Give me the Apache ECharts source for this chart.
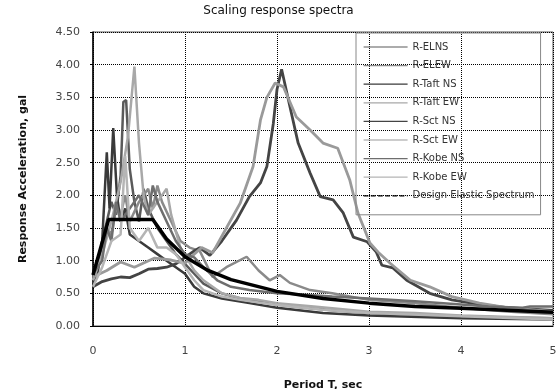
<!DOCTYPE html>
<html><head><meta charset="utf-8">
<script src="https://cdn.jsdelivr.net/npm/echarts@6/dist/echarts.min.js"></script>
<style>html,body{margin:0;padding:0;background:#fff}#c{width:557px;height:389px}</style>
</head><body><div id="c"></div>
<script>
const seriesNames = ['R-ELNS','R-ELEW','R-Taft NS','R-Taft EW','R-Sct NS','R-Sct EW','R-Kobe NS','R-Kobe EW','Design Elastic Spectrum'];
const xTicks = [0,1,2,3,4,5];
const yTicks = [0,0.5,1,1.5,2,2.5,3,3.5,4,4.5];

const elns = [[0,0.75],[0.05,0.9],[0.1,1.3],[0.15,1.6],[0.2,1.9],[0.25,1.7],[0.3,2.3],[0.33,3.43],[0.36,3.46],[0.4,2.4],[0.45,1.9],[0.5,1.6],[0.55,2.1],[0.6,1.8],[0.7,1.5],[0.8,1.3],[0.9,1.1],[1.0,0.95],[1.1,0.8],[1.2,0.65],[1.4,0.5],[1.6,0.42],[1.8,0.38],[2.0,0.33],[2.3,0.28],[2.6,0.24],[3.0,0.2],[3.5,0.17],[4,0.15],[4.5,0.13],[5,0.12]];
const elew = [[0,0.7],[0.05,0.95],[0.1,1.2],[0.15,1.5],[0.2,1.4],[0.25,1.8],[0.3,1.7],[0.35,2.0],[0.4,1.6],[0.5,1.9],[0.6,2.1],[0.65,1.8],[0.7,2.15],[0.75,1.9],[0.85,1.6],[0.95,1.3],[1.05,1.2],[1.16,1.15],[1.3,0.75],[1.45,0.9],[1.67,1.06],[1.8,0.85],[1.92,0.7],[2.03,0.78],[2.14,0.66],[2.36,0.55],[2.6,0.5],[3.0,0.4],[3.5,0.35],[4,0.28],[4.5,0.22],[5,0.18]];
const taftNS = [[0,0.65],[0.05,0.8],[0.1,1.3],[0.15,2.66],[0.18,1.8],[0.22,3.03],[0.26,2.0],[0.3,1.6],[0.35,1.8],[0.4,1.4],[0.5,1.3],[0.6,1.2],[0.7,1.1],[0.8,1.0],[0.9,0.9],[1.0,0.8],[1.1,0.6],[1.2,0.5],[1.4,0.42],[1.7,0.35],[2.0,0.28],[2.5,0.2],[3,0.16],[4,0.12],[5,0.1]];
const taftEW = [[0,0.7],[0.1,1.1],[0.2,1.6],[0.3,2.2],[0.38,2.9],[0.45,3.97],[0.5,2.8],[0.55,2.0],[0.6,1.7],[0.7,1.9],[0.8,2.1],[0.85,1.7],[0.95,1.2],[1.1,0.85],[1.2,0.7],[1.4,0.5],[1.6,0.43],[1.8,0.4],[2.0,0.35],[2.4,0.3],[3,0.22],[3.5,0.2],[4,0.16],[5,0.12]];
const sctNS = [[0,0.6],[0.1,0.68],[0.2,0.72],[0.3,0.75],[0.4,0.74],[0.5,0.8],[0.6,0.87],[0.7,0.88],[0.8,0.9],[0.9,0.95],[1.0,1.05],[1.1,1.15],[1.16,1.2],[1.27,1.08],[1.4,1.3],[1.56,1.62],[1.7,1.98],[1.82,2.19],[1.89,2.44],[1.96,3.1],[2.0,3.62],[2.05,3.93],[2.14,3.36],[2.23,2.8],[2.36,2.34],[2.47,1.98],[2.61,1.93],[2.72,1.73],[2.83,1.36],[2.98,1.29],[3.08,1.13],[3.14,0.93],[3.26,0.89],[3.41,0.7],[3.66,0.5],[3.9,0.4],[4.2,0.33],[4.5,0.28],[5,0.24]];
const sctEW = [[0,0.75],[0.15,0.85],[0.3,0.98],[0.45,0.9],[0.67,1.04],[0.85,1.01],[1.0,0.96],[1.1,1.1],[1.18,1.2],[1.3,1.12],[1.45,1.5],[1.6,1.88],[1.74,2.44],[1.82,3.15],[1.89,3.5],[1.98,3.72],[2.07,3.66],[2.21,3.2],[2.36,3.0],[2.5,2.8],[2.66,2.72],[2.79,2.24],[2.88,1.73],[3.01,1.27],[3.1,1.13],[3.23,0.96],[3.45,0.7],[3.66,0.6],[3.9,0.45],[4.2,0.35],[4.5,0.28],[5,0.22]];
const kobeNS = [[0,0.8],[0.1,1.0],[0.15,1.5],[0.2,1.3],[0.25,1.9],[0.3,1.6],[0.4,1.8],[0.5,2.0],[0.6,1.7],[0.65,2.15],[0.7,1.9],[0.8,1.6],[0.9,1.3],[1.0,1.1],[1.1,1.05],[1.2,0.9],[1.35,0.7],[1.5,0.6],[1.7,0.55],[2.0,0.5],[2.3,0.48],[2.6,0.45],[3,0.42],[3.5,0.38],[4,0.33],[4.3,0.3],[4.67,0.28],[4.75,0.3],[5,0.3]];
const kobeEW = [[0,0.6],[0.1,0.9],[0.2,1.3],[0.3,1.4],[0.35,2.6],[0.4,1.5],[0.5,1.3],[0.6,1.5],[0.7,1.2],[0.8,1.2],[0.9,1.1],[1.0,0.9],[1.1,0.7],[1.2,0.55],[1.4,0.45],[1.6,0.4],[2,0.32],[2.5,0.25],[3,0.2],[4,0.15],[5,0.1]];
const design = [[0,0.78],[0.17,1.63],[0.65,1.63],[0.8,1.33],[1,1.06],[1.25,0.85],[1.5,0.71],[2,0.53],[2.5,0.42],[3,0.35],[3.5,0.3],[4,0.27],[4.5,0.24],[5,0.21]];

const dataSets = [elns, elew, taftNS, taftEW, sctNS, sctEW, kobeNS, kobeEW, design];
const colors = ['#5a5a5a','#8a8a8a','#3a3a3a','#a8a8a8','#444444','#9a9a9a','#6e6e6e','#b5b5b5','#000000'];
const widths = [2.5,2.5,2.5,2.5,2.8,2.8,2.5,2.5,3.5];

const chart = echarts.init(document.getElementById('c'));
const series = dataSets.map((d,i)=>({
  name: seriesNames[i], type:'line', data:d, symbol:'none', smooth:false,
  lineStyle:{color:colors[i], width:widths[i]}, itemStyle:{color:colors[i]},
  z: i===8 ? 5 : 2
}));
chart.setOption({
  animation:false,
  title:{text:'Scaling response spectra', left:'center', top:0,
    textStyle:{fontFamily:'DejaVu Sans', fontSize:12, fontWeight:'normal', color:'#111'}},
  grid:{left:93, right:4, top:32, bottom:63, show:true, borderColor:'#555', borderWidth:1, containLabel:false, outerBoundsMode:'none'},
  legend:{orient:'vertical', left:356, top:33, padding:[9,6,14,7], itemWidth:44, itemHeight:10, itemGap:8.6,
    itemStyle:{opacity:0},
    borderColor:'#888', borderWidth:1, backgroundColor:'transparent',
    textStyle:{fontFamily:'DejaVu Sans', fontSize:10, color:'#333'},
    data: seriesNames.map((n,i)=> i===8 ? {name:n, lineStyle:{type:'dashed', width:1.2, color:'#000'}} : {name:n, lineStyle:{width:1.2}})
  },
  xAxis:{type:'value', min:0, max:5, interval:1,
    name:'Period T, sec', nameLocation:'middle', nameGap:54,
    nameTextStyle:{fontFamily:'DejaVu Sans', fontSize:11, fontWeight:'bold', color:'#111'},
    axisLine:{show:true, lineStyle:{color:'#000', width:1}},
    axisTick:{show:false},
    axisLabel:{margin:20, fontFamily:'DejaVu Sans', fontSize:11, color:'#444', formatter:v=> xTicks.includes(v)? String(v):''},
    splitLine:{show:true, lineStyle:{type:'dotted', color:'#000', width:1}}},
  yAxis:{type:'value', min:0, max:4.5, interval:0.5,
    name:'Response Acceleration, gal', nameLocation:'middle', nameGap:64, nameRotate:90,
    nameTextStyle:{fontFamily:'DejaVu Sans', fontSize:11, fontWeight:'bold', color:'#111'},
    axisLine:{show:true, lineStyle:{color:'#000', width:1.5}},
    axisTick:{show:true, length:3, lineStyle:{color:'#000'}},
    axisLabel:{margin:13, fontFamily:'DejaVu Sans', fontSize:11, color:'#444', formatter:v=> yTicks.includes(v)? v.toFixed(2):''},
    splitLine:{show:true, lineStyle:{type:'dotted', color:'#000', width:1}}},
  series: series
});
</script></body></html>
